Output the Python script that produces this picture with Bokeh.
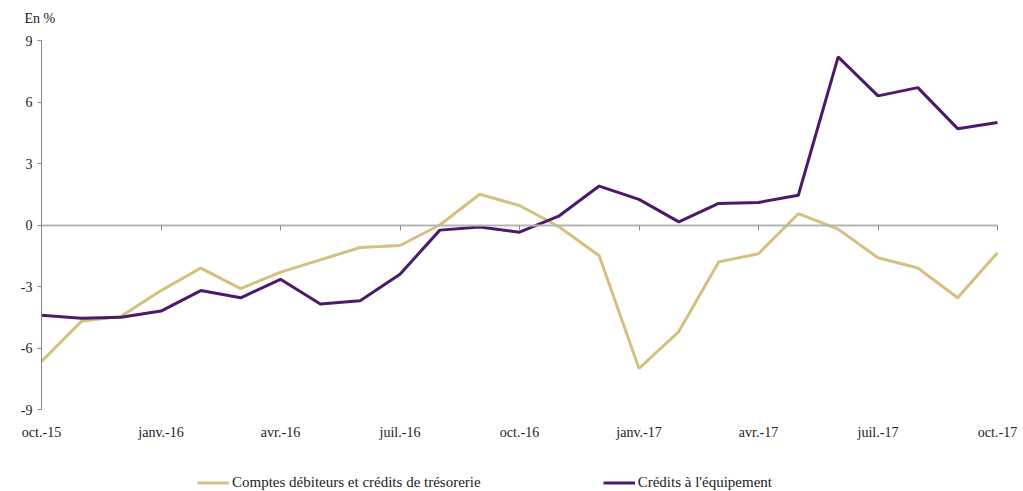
from bokeh.plotting import figure
from bokeh.models import (Range1d, FixedTicker, LinearAxis, Legend, LegendItem, Title, ColumnDataSource)
from bokeh.core.properties import value
from bokeh.embed import file_html
from bokeh.resources import INLINE

months = ["oct.-15", "nov.-15", "déc.-15", "janv.-16", "févr.-16", "mars-16", "avr.-16", "mai-16",
          "juin-16", "juil.-16", "août-16", "sept.-16", "oct.-16", "nov.-16", "déc.-16", "janv.-17",
          "févr.-17", "mars-17", "avr.-17", "mai-17", "juin-17", "juil.-17", "août-17", "sept.-17", "oct.-17"]
comptes = [-6.66, -4.7, -4.45, -3.2, -2.1, -3.1, -2.3, -1.7, -1.1, -1.0, 0.0, 1.5, 0.95, -0.1, -1.5,
           -7.0, -5.2, -1.8, -1.4, 0.55, -0.2, -1.6, -2.1, -3.55, -1.35]
equip = [-4.4, -4.55, -4.5, -4.2, -3.2, -3.55, -2.65, -3.85, -3.7, -2.4, -0.25, -0.1, -0.35, 0.45, 1.9,
         1.25, 0.15, 1.05, 1.1, 1.45, 8.2, 6.3, 6.7, 4.7, 5.0]
y_ticks = [-9, -6, -3, 0, 3, 6, 9]
y_tick_labels = ["-9", "-6", "-3", "0", "3", "6", "9"]
series_names = ["Comptes débiteurs et crédits de trésorerie", "Crédits à l'équipement"]
colors = ["#D5C07F", "#4B1A6B"]

FONT = "Liberation Serif"
x = list(range(len(months)))
label_ticks = [i for i in x if i % 3 == 0]
n_last = len(months) - 1

# layout in pixels
AX_LEFT, AX_RIGHT = 41, 997          # page x of first / last month
AX_TOP, AX_BOTTOM = 40, 409          # page y of 9 / -9
FRAME_L, FRAME_R = 10, 1018
FRAME_T, FRAME_B = 28, 491
PXX = (AX_RIGHT - AX_LEFT) / n_last
Y_MIN, Y_MAX = y_ticks[0], y_ticks[-1]
PXY = (AX_BOTTOM - AX_TOP) / (Y_MAX - Y_MIN)
x_start = -(AX_LEFT - FRAME_L) / PXX
x_end = n_last + (FRAME_R - AX_RIGHT) / PXX
y_end = Y_MAX + (AX_TOP - FRAME_T) / PXY
y_start = Y_MIN - (FRAME_B - AX_BOTTOM) / PXY

p = figure(frame_width=FRAME_R - FRAME_L, frame_height=FRAME_B - FRAME_T,
           output_backend="svg", toolbar_location=None,
           x_range=Range1d(x_start, x_end), y_range=Range1d(y_start, y_end),
           min_border_left=FRAME_L, min_border_right=2, min_border_top=FRAME_T, min_border_bottom=0,
           x_axis_location=None, y_axis_location=None)
p.outline_line_color = None
p.xgrid.visible = False
p.ygrid.visible = False
p.background_fill_color = "white"
p.border_fill_color = "white"

# y axis line + ticks at x = 0
yax = LinearAxis(ticker=FixedTicker(ticks=y_ticks), bounds=(Y_MIN, Y_MAX), fixed_location=0)
yax.axis_line_color = "#888888"
yax.major_tick_line_color = "#888888"
yax.major_tick_out = 4
yax.major_tick_in = 0
yax.minor_tick_line_color = None
yax.major_label_text_alpha = 0
yax.major_label_text_font_size = "1px"
yax.major_label_standoff = 0
p.add_layout(yax, "left")

# zero axis with ticks pointing down
zax = LinearAxis(ticker=FixedTicker(ticks=label_ticks), fixed_location=0, bounds=(0, n_last))
zax.axis_line_color = "#b5b5b5"
zax.axis_line_width = 2
zax.major_tick_line_color = "#888888"
zax.major_tick_out = 0
zax.major_tick_in = 5
zax.minor_tick_line_color = None
zax.major_label_text_alpha = 0
zax.major_label_text_font_size = "1px"
zax.major_label_standoff = 0
p.add_layout(zax, "above")

# y tick labels
ylab = ColumnDataSource(dict(x=[-9 / PXX] * len(y_ticks), y=y_ticks, t=y_tick_labels))
p.text(x="x", y="y", text="t", source=ylab, text_font=value(FONT), text_font_size="14px",
       text_color="#222222", text_align="right", text_baseline="middle")

# x tick labels below the -9 level
xlab = ColumnDataSource(dict(x=label_ticks, y=[Y_MIN - 23 / PXY] * len(label_ticks),
                             t=[months[i] for i in label_ticks]))
p.text(x="x", y="y", text="t", source=xlab, text_font=value(FONT), text_font_size="14px",
       text_color="#222222", text_align="center", text_baseline="middle")

r1 = p.line(x, comptes, line_color=colors[0], line_width=3)
r2 = p.line(x, equip, line_color=colors[1], line_width=3)

legend = Legend(items=[LegendItem(label=series_names[0], renderers=[r1]),
                       LegendItem(label=series_names[1], renderers=[r2])],
                orientation="horizontal", location=(197 - FRAME_L, 0))
legend.border_line_color = None
legend.background_fill_alpha = 0
legend.label_text_font = FONT
legend.label_text_font_size = "15px"
legend.label_text_color = "#222222"
legend.glyph_width = 32
legend.glyph_height = 15
legend.label_height = 15
legend.label_standoff = 3
legend.spacing = 122
legend.padding = 0
legend.margin = 0
p.add_layout(legend, "center")

t = Title(text="En %", align="left", text_font=FONT, text_font_size="14px",
          text_font_style="normal", text_color="#222222", offset=24 - FRAME_L, standoff=6)
p.add_layout(t, "above")

open("out.html", "w").write(file_html(p, INLINE))
